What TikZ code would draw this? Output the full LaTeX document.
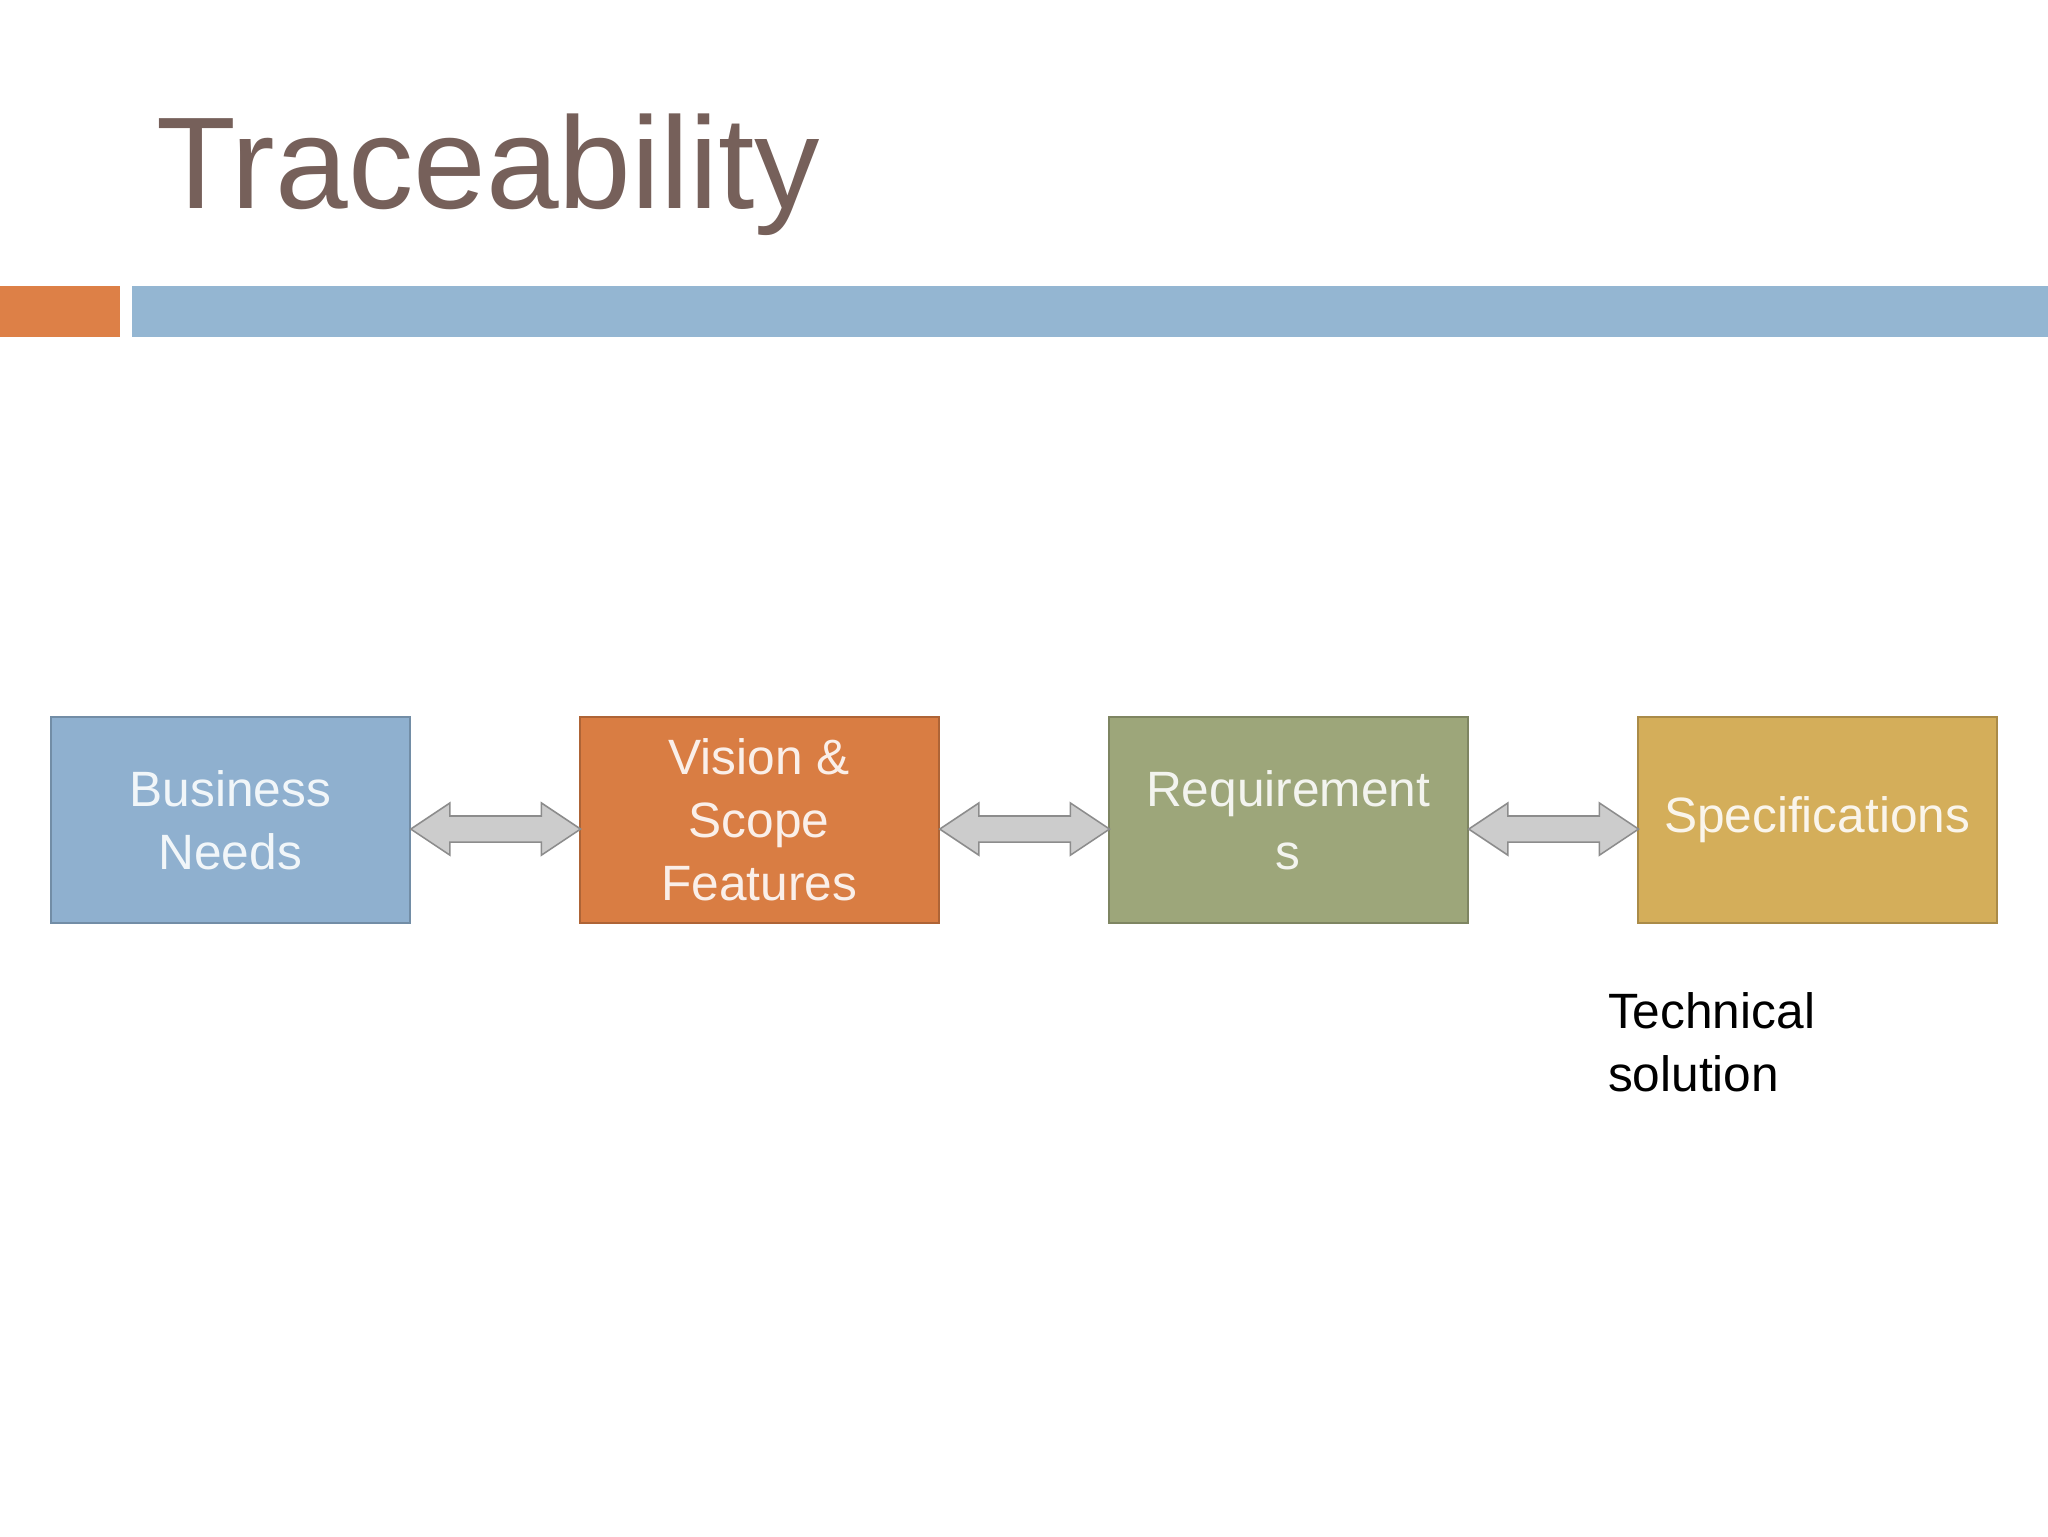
\documentclass[tikz,border=0pt]{standalone}
\usepackage{fontspec}
\setmainfont{Liberation Sans}
\usetikzlibrary{calc}
\begin{document}
\begin{tikzpicture}[x=1pt,y=-1pt,
  box/.style={minimum width=275pt,minimum height=158pt,draw=#1!80!black,line width=1.5pt,fill=#1,text=white!88!#1,font=\fontsize{38}{48}\selectfont,align=center,anchor=north west,inner sep=0pt},
  arr/.style={fill=black!20,draw=black!45,line width=1.2pt,line join=miter}]
\definecolor{cblue}{HTML}{8FB0CF}
\definecolor{corange}{HTML}{D97D43}
\definecolor{cgreen}{HTML}{9DA67A}
\definecolor{cgold}{HTML}{D4AE5A}
\definecolor{ctitle}{HTML}{76605A}
\definecolor{borange}{HTML}{DD8047}
\definecolor{bblue}{HTML}{94B6D2}
\useasboundingbox[fill=white] (0,0) rectangle (1568,1176);
\node[anchor=base west,inner sep=0pt,text=ctitle,font=\fontsize{100}{110}\selectfont] (title) at (120,160) {Traceability};
\fill[borange] (0,219) rectangle (92,258);
\fill[bblue] (101,219) rectangle (1568,258);
\node[box=cblue] (bn) at (38,548) {Business\\Needs};
\node[box=corange] (vs) at (443,548) {Vision \&\\Scope\\Features};
\node[box=cgreen] (rq) at (848,548) {Requirement\\s};
\node[box=cgold] (sp) at (1253,548) {Specifications};
\foreach \a/\b in {bn/vs,vs/rq,rq/sp}{
  \draw[arr] ($(\a.east)+(0,7)$) -- ++(30,-20) -- ++(0,10) -- ++(70,0) -- ++(0,-10) -- ++(30,20) -- ++(-30,20) -- ++(0,-10) -- ++(-70,0) -- ++(0,10) -- cycle;
}
\node[anchor=north west,inner sep=0pt,align=left,font=\fontsize{38}{48}\selectfont] (ts) at (1231,760) {Technical\\solution};
\end{tikzpicture}
\end{document}
